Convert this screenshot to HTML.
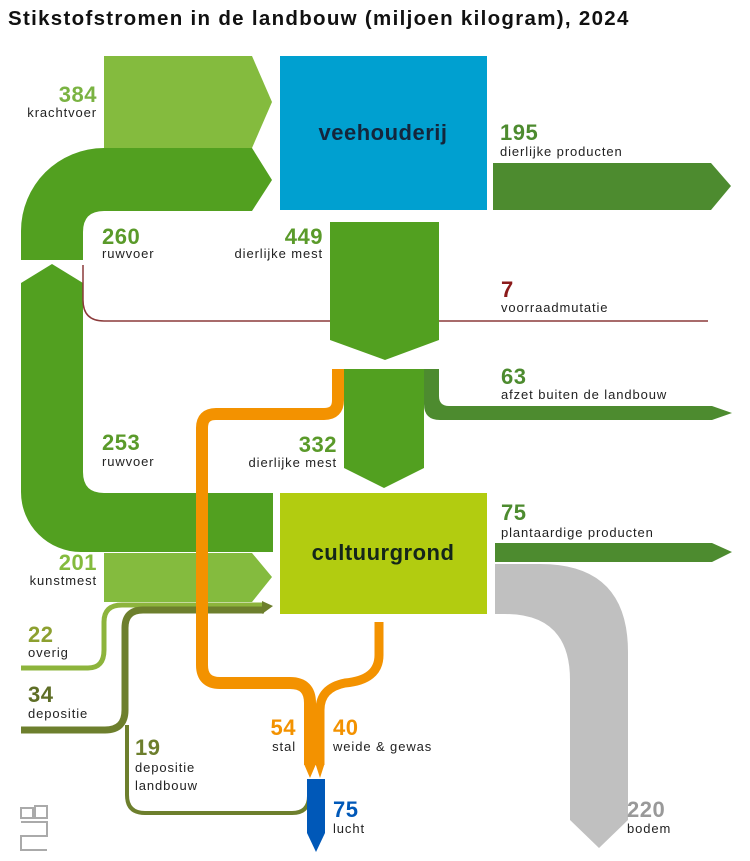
<!DOCTYPE html>
<html><head><meta charset="utf-8"><style>
html,body{margin:0;padding:0;background:#fff;}
svg{display:block;font-family:"Liberation Sans",sans-serif;}
.n{font-size:22px;font-weight:bold;letter-spacing:0.5px;}
.l{font-size:13px;fill:#222;letter-spacing:0.9px;}
</style></head><body>
<svg width="750" height="861" viewBox="0 0 750 861" xmlns="http://www.w3.org/2000/svg">
<text x="8" y="25" font-size="20.5" font-weight="bold" fill="#111" letter-spacing="1.3">Stikstofstromen in de landbouw (miljoen kilogram), 2024</text>

<path d="M104,56 L252,56 L272,102 L252,148 L104,148 Z" fill="#84bb3e"/>
<path d="M104,148 L252,148 L272,180 L252,211 L104,211 Q83,211 83,232 L83,260 L21,260 L21,231 A83,83 0 0 1 104,148 Z" fill="#52a020"/>
<path d="M21,283 L52,264 L83,283 L83,472 Q83,493 104,493 L273,493 L273,552 L81,552 A60,60 0 0 1 21,492 Z" fill="#52a020"/>
<path d="M83,265 L83,300 Q83,321 104,321 L708,321" fill="none" stroke="#8b3a3a" stroke-width="1.5"/>

<rect x="280" y="56" width="207" height="154" fill="#00a0d0"/>
<text x="383" y="140" text-anchor="middle" font-size="22" font-weight="bold" fill="#14263c" letter-spacing="0.5">veehouderij</text>
<path d="M493,163 L711,163 L731,186 L711,210 L493,210 Z" fill="#4d8b2f"/>

<path d="M330,222 L439,222 L439,340 L385,360 L330,340 Z" fill="#52a020"/>
<path d="M344,369 L424,369 L424,468 L384,488 L344,468 Z" fill="#52a020"/>
<path d="M424,369 L439,369 L439,396 Q439,406 449,406 L712,406 L732,413 L712,420 L440,420 Q424,420 424,404 Z" fill="#4d8b2f"/>

<rect x="280" y="493" width="207" height="121" fill="#b2cc10"/>
<text x="383" y="560" text-anchor="middle" font-size="22" font-weight="bold" fill="#14261a" letter-spacing="0.5">cultuurgrond</text>
<path d="M495,543 L712,543 L732,552 L712,562 L495,562 Z" fill="#4d8b2f"/>
<path d="M495,564 L540,564 Q628,564 628,652 L628,820 L599,848 L570,820 L570,680 Q570,614 505,614 L495,614 Z" fill="#c0c0c0"/>

<path d="M104,553 L252,553 L272,577 L252,602 L104,602 Z" fill="#84bb3e"/>

<path d="M21,668 L88,668 Q104,668 104,650 L104,622 Q104,605 122,605 L264,605" fill="none" stroke="#8db43c" stroke-width="5"/>
<path d="M21,730 L105,730 Q125,730 125,710 L125,628 Q125,610 143,610 L264,610" fill="none" stroke="#6d7f2d" stroke-width="7"/>
<path d="M262,601 L273,606 L262,614 Z" fill="#6d7f2d"/>
<path d="M127,725 L127,795 Q127,813 145,813 L292,813 Q309,813 309,796 L309,780" fill="none" stroke="#6d7f2d" stroke-width="4"/>

<path d="M338,369 L338,400 Q338,414 324,414 L216,414 Q202,414 202,428 L202,665 Q202,683 220,683 L290,683 Q310,683 310,703 L310,765" fill="none" stroke="#f39200" stroke-width="12"/>
<path d="M379,622 L379,655 Q379,680 345,683 Q320,688 320,710 L320,765" fill="none" stroke="#f39200" stroke-width="9"/>
<path d="M304,764 L316,764 L310,778 Z M315.5,764 L324.5,764 L320,778 Z" fill="#f39200"/>

<path d="M307,779 L325,779 L325,833 L316,852 L307,833 Z" fill="#0058b8"/>

<g fill="none" stroke="#aaa" stroke-width="2">
<rect x="21" y="808" width="12" height="10"/><rect x="35" y="806" width="12" height="12"/>
<path d="M21,822 L47,822 L47,836 L21,836 L21,850 L47,850"/>
</g>

<text class="n" x="97" y="102" text-anchor="end" fill="#7ab342">384</text>
<text class="l" x="97" y="117" text-anchor="end">krachtvoer</text>
<text class="n" x="102" y="244" fill="#5a9a2a">260</text>
<text class="l" x="102" y="258">ruwvoer</text>
<text class="n" x="323" y="244" text-anchor="end" fill="#5a9a2a">449</text>
<text class="l" x="323" y="258" text-anchor="end">dierlijke mest</text>
<text class="n" x="500" y="140" fill="#4d8b2f">195</text>
<text class="l" x="500" y="156">dierlijke producten</text>
<text class="n" x="501" y="297" fill="#8b1a1a">7</text>
<text class="l" x="501" y="312">voorraadmutatie</text>
<text class="n" x="501" y="384" fill="#4d8b2f">63</text>
<text class="l" x="501" y="399">afzet buiten de landbouw</text>
<text class="n" x="102" y="450" fill="#5a9a2a">253</text>
<text class="l" x="102" y="466">ruwvoer</text>
<text class="n" x="337" y="452" text-anchor="end" fill="#5a9a2a">332</text>
<text class="l" x="337" y="467" text-anchor="end">dierlijke mest</text>
<text class="n" x="501" y="520" fill="#4d8b2f">75</text>
<text class="l" x="501" y="537">plantaardige producten</text>
<text class="n" x="97" y="570" text-anchor="end" fill="#84bb3e">201</text>
<text class="l" x="97" y="585" text-anchor="end">kunstmest</text>
<text class="n" x="28" y="642" fill="#8da030">22</text>
<text class="l" x="28" y="657">overig</text>
<text class="n" x="28" y="702" fill="#5e6e26">34</text>
<text class="l" x="28" y="718">depositie</text>
<text class="n" x="135" y="755" fill="#6d7f2d">19</text>
<text class="l" x="135" y="772">depositie</text>
<text class="l" x="135" y="790">landbouw</text>
<text class="n" x="296" y="735" text-anchor="end" fill="#f39200">54</text>
<text class="l" x="296" y="751" text-anchor="end">stal</text>
<text class="n" x="333" y="735" fill="#f39200">40</text>
<text class="l" x="333" y="751">weide &amp; gewas</text>
<text class="n" x="333" y="817" fill="#0058b8">75</text>
<text class="l" x="333" y="833">lucht</text>
<text class="n" x="627" y="817" fill="#999">220</text>
<text class="l" x="627" y="833">bodem</text>
</svg>
</body></html>
